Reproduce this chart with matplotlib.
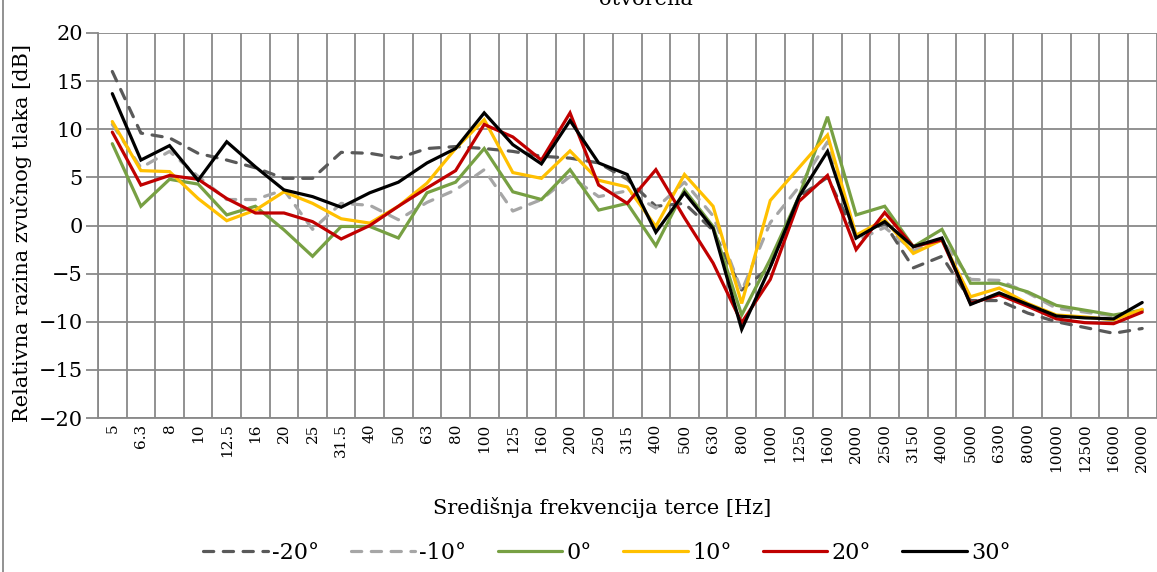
import numpy as np
import matplotlib

matplotlib.use("Agg")
import matplotlib.pyplot as plt
from matplotlib.lines import Line2D

# third-octave centre frequencies, Hz
FREQS = ["5", "6.3", "8", "10", "12.5", "16", "20", "25", "31.5", "40", "50",
         "63", "80", "100", "125", "160", "200", "250", "315", "400", "500",
         "630", "800", "1000", "1250", "1600", "2000", "2500", "3150", "4000",
         "5000", "6300", "8000", "10000", "12500", "16000", "20000"]

# relative SPL [dB] per microphone angle
M20 = [16.0, 9.6, 9.1, 7.5, 6.8, 6.0, 4.9, 4.9, 7.6, 7.5, 7.0, 8.0, 8.2, 8.0,
       7.7, 7.2, 7.0, 6.5, 4.8, 2.0, 2.3, -0.5, -6.7, -4.3, 3.0, 5.0, -1.1,
       0.2, -4.4, -3.2, -7.8, -7.8, -9.1, -10.0, -10.6, -11.2, -10.7]
M10 = [10.5, 6.0, 7.7, 5.1, 2.7, 2.7, 3.7, -0.4, 2.3, 2.1, 0.6, 2.4, 3.7, 5.8,
       1.5, 2.7, 5.1, 3.0, 3.6, 1.8, 4.5, 1.0, -6.8, 0.3, 4.0, 8.7, -1.6,
       -0.2, -2.6, -1.5, -5.6, -5.7, -7.0, -8.6, -9.0, -9.4, -8.8]
P0 = [8.5, 2.0, 4.8, 4.3, 1.1, 2.0, -0.45, -3.2, -0.1, -0.1, -1.3, 3.4, 4.5,
      8.0, 3.5, 2.7, 5.8, 1.6, 2.3, -2.1, 3.7, -0.1, -9.3, -3.5, 3.0, 11.3,
      1.1, 2.0, -2.2, -0.4, -6.0, -6.0, -6.9, -8.3, -8.8, -9.3, -8.8]
P10 = [10.8, 5.7, 5.6, 2.8, 0.5, 1.6, 3.5, 2.3, 0.7, 0.25, 2.0, 4.4, 8.0,
       11.0, 5.5, 4.9, 7.75, 4.7, 4.0, -0.1, 5.3, 2.0, -8.1, 2.6, 6.0, 9.4,
       -1.0, 0.6, -2.9, -1.5, -7.4, -6.5, -8.1, -9.3, -9.5, -9.8, -8.7]
P20 = [9.7, 4.2, 5.2, 4.8, 2.8, 1.3, 1.3, 0.4, -1.4, 0.0, 2.0, 3.9, 5.7, 10.5,
       9.2, 6.8, 11.7, 4.2, 2.3, 5.8, 0.8, -3.9, -10.1, -5.6, 2.5, 5.2, -2.5,
       1.35, -2.2, -1.5, -8.1, -7.2, -8.4, -9.7, -10.1, -10.2, -9.0]
P30 = [13.7, 6.8, 8.3, 4.7, 8.7, 6.1, 3.7, 3.0, 1.9, 3.4, 4.5, 6.5, 8.0, 11.7,
       8.4, 6.4, 10.9, 6.5, 5.3, -0.7, 3.4, -0.3, -10.8, -4.3, 3.0, 7.7, -1.3,
       0.4, -2.2, -1.3, -8.2, -7.0, -8.2, -9.4, -9.6, -9.7, -8.0]

LABELS = ["-20°", "-10°", "0°", "10°", "20°", "30°"]
COLORS = ["#595959", "#a6a6a6", "#77a043", "#ffc000", "#c00000", "#000000"]
DASHED = [True, True, False, False, False, False]

GRID = "#898989"

plt.rcParams.update({
    "font.family": ["DejaVu Serif"],
    "text.color": "black",
    "xtick.color": "black",
    "ytick.color": "black",
})

fig = plt.figure(figsize=(11.57, 5.72), dpi=100)
ax = fig.add_axes([98 / 1157, 1 - 418 / 572, (1156.5 - 98) / 1157, 385 / 572])

x = np.arange(len(FREQS))
for ys, lab, col, dash in zip([M20, M10, P0, P10, P20, P30], LABELS, COLORS, DASHED):
    line, = ax.plot(x, ys, color=col, lw=2.3, label=lab,
                    solid_capstyle="round", solid_joinstyle="miter")
    if dash:
        line.set_dashes((3.2, 3.0))
        line.set_dash_capstyle("round")

ax.set_xlim(-0.5, len(FREQS) - 0.5)
ax.set_ylim(-20, 20)
ax.set_yticks(np.arange(-20, 21, 5))
ax.set_xticks(x)
ax.set_xticklabels(FREQS, rotation=90, fontsize=11)
ax.set_xticks(np.arange(-0.5, len(FREQS), 1), minor=True)
ax.tick_params(axis="x", which="both", length=0, pad=4)
ax.tick_params(axis="y", length=9, width=1.3, color=GRID, labelsize=15, pad=2)
ax.grid(True, which="minor", axis="x", color=GRID, lw=1.3)
ax.grid(True, which="major", axis="y", color=GRID, lw=1.3)
ax.set_axisbelow(True)
for side in ("top", "right"):
    ax.spines[side].set_visible(False)
for side in ("left", "bottom"):
    ax.spines[side].set_color(GRID)
    ax.spines[side].set_linewidth(1.3)

fig.text(22 / 1157, 1 - 233 / 572, "Relativna razina zvučnog tlaka [dB]",
         rotation=90, ha="center", va="center", fontsize=15)
fig.text(602 / 1157, 1 - 508 / 572, "Središnja frekvencija terce [Hz]",
         ha="center", va="center", fontsize=15)
# chart title sits mostly above the visible frame
fig.text(646 / 1157, 1 - 5 / 572, "otvorena", ha="center", va="baseline",
         fontsize=15)

fig.legend(loc="center", bbox_to_anchor=(607 / 1157, 1 - 553 / 572), ncol=6,
           frameon=False, fontsize=16, handlelength=2.9, handletextpad=0.2,
           columnspacing=1.4)

# outer chart frame, only its left edge is inside the picture
fig.add_artist(Line2D([2.5 / 1157, 2.5 / 1157], [0, 1], color=GRID, lw=1.3))

fig.savefig("out.png", dpi=100)
